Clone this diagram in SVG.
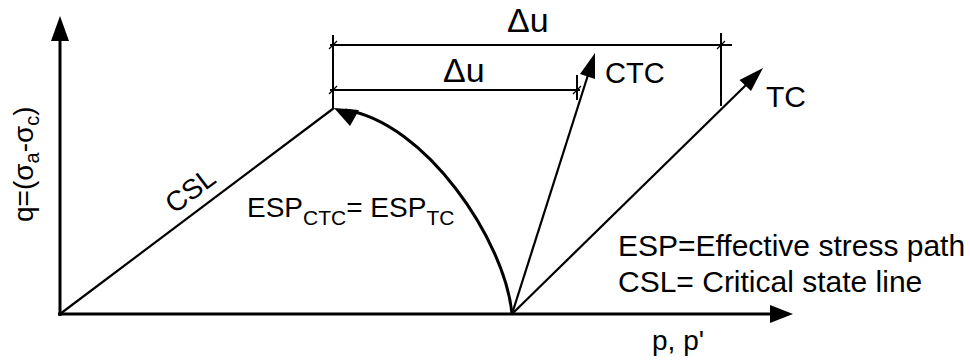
<svg xmlns="http://www.w3.org/2000/svg" width="970" height="360" viewBox="0 0 970 360">
<style>
text{font-family:"Liberation Sans",Arial,sans-serif;fill:#000}
.ax{stroke:#000;stroke-width:3;fill:none}
.ln{stroke:#000;stroke-width:2.2;fill:none}
.dim{stroke:#000;stroke-width:2;fill:none}
.tk{stroke:#000;stroke-width:1.2;fill:none}
.ah{fill:#000;stroke:none}
</style>
<rect width="970" height="360" fill="#fff"/>
<g id="connectors">
<line id="y-axis" class="ax" x1="60" y1="316" x2="60" y2="38"/>
<polygon class="ah" points="60,16 51,41 69,41"/>
<line id="x-axis" class="ax" x1="58" y1="314" x2="772" y2="314"/>
<polygon class="ah" points="793,314 770,305 770,323"/>
<line id="csl-line" class="ln" x1="60" y1="314" x2="334" y2="108"/>
<path id="esp-arc" class="ax" d="M512,314 C505,240 425,122 345,110"/>
<polygon class="ah" points="334,108 359,110 350,126"/>
<line id="ctc-line" class="ln" x1="512" y1="314" x2="588" y2="75"/>
<polygon class="ah" points="595,53 595,79 580,74"/>
<line id="tc-line" class="ln" x1="512" y1="314" x2="746" y2="85"/>
<polygon class="ah" points="763,68 751,91 739.5,80"/>
<line class="dim" x1="333" y1="35" x2="333" y2="108"/>
<line class="dim" x1="721" y1="33" x2="721" y2="106"/>
<line class="dim" x1="330" y1="45" x2="732" y2="45"/>
<line class="dim" x1="330" y1="90" x2="580" y2="90"/>
<line class="dim" x1="577" y1="75" x2="577" y2="100"/>
<line class="tk" x1="329" y1="49" x2="337" y2="41"/>
<line class="tk" x1="329" y1="94" x2="337" y2="86"/>
<line class="tk" x1="717" y1="49" x2="725" y2="41"/>
<line class="tk" x1="573" y1="94" x2="581" y2="86"/>
</g>
<g id="labels">
<text id="q-label" font-size="28" transform="translate(33,222) rotate(-90)">q=(σ<tspan font-size="20" dy="6">a</tspan><tspan dy="-6">-σ</tspan><tspan font-size="20" dy="6">c</tspan><tspan dy="-6">)</tspan></text>
<text id="csl-label" font-size="28" text-anchor="middle" transform="translate(196,198) rotate(-37)">CSL</text>
<text id="esp-eq" x="247" y="217" font-size="28">ESP<tspan font-size="21" dy="8">CTC</tspan><tspan dy="-8">= ESP</tspan><tspan font-size="21" dy="8">TC</tspan></text>
<text id="du-outer" x="507" y="32" font-size="34">Δu</text>
<text id="du-inner" x="443" y="82" font-size="34">Δu</text>
<text id="ctc-label" x="605" y="83" font-size="29">CTC</text>
<text id="tc-label" x="766" y="107" font-size="30">TC</text>
<text id="legend-esp" x="618" y="256" font-size="30">ESP=Effective stress path</text>
<text id="legend-csl" x="618" y="292" font-size="30">CSL= Critical state line</text>
<text id="p-label" x="652" y="350" font-size="28">p, p'</text>
</g>
</svg>
